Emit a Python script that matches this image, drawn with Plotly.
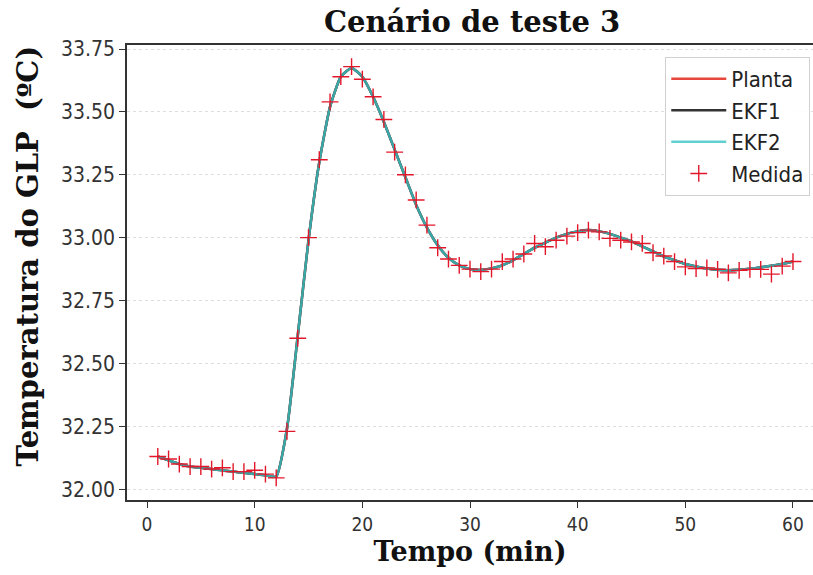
import plotly.graph_objects as go

tempo = list(range(1, 61))

planta = [32.13, 32.115, 32.10, 32.09, 32.085, 32.08, 32.075, 32.07, 32.065, 32.06,
          32.055, 32.05, 32.24, 32.61, 32.99, 33.30, 33.52, 33.64, 33.675, 33.64,
          33.56, 33.46, 33.35, 33.24, 33.13, 33.04, 32.97, 32.92, 32.89, 32.875,
          32.872, 32.878, 32.89, 32.91, 32.935, 32.96, 32.98, 33.0, 33.015, 33.025,
          33.03, 33.025, 33.015, 33.0, 32.985, 32.965, 32.945, 32.925, 32.91, 32.895,
          32.885, 32.877, 32.872, 32.87, 32.872, 32.876, 32.882, 32.888, 32.895, 32.905]

ekf1 = [32.13, 32.115, 32.10, 32.09, 32.085, 32.08, 32.075, 32.07, 32.065, 32.06,
        32.055, 32.05, 32.24, 32.61, 32.99, 33.30, 33.52, 33.64, 33.675, 33.64,
        33.56, 33.46, 33.35, 33.24, 33.13, 33.04, 32.97, 32.92, 32.89, 32.875,
        32.872, 32.878, 32.89, 32.91, 32.935, 32.96, 32.98, 33.0, 33.015, 33.025,
        33.03, 33.025, 33.015, 33.0, 32.985, 32.965, 32.945, 32.925, 32.91, 32.895,
        32.885, 32.877, 32.872, 32.87, 32.872, 32.876, 32.882, 32.888, 32.895, 32.905]

ekf2 = [32.13, 32.115, 32.10, 32.09, 32.085, 32.08, 32.075, 32.07, 32.065, 32.06,
        32.055, 32.05, 32.24, 32.61, 32.99, 33.30, 33.52, 33.64, 33.675, 33.64,
        33.56, 33.46, 33.35, 33.24, 33.13, 33.04, 32.97, 32.92, 32.89, 32.875,
        32.872, 32.878, 32.89, 32.91, 32.935, 32.96, 32.98, 33.0, 33.015, 33.025,
        33.03, 33.025, 33.015, 33.0, 32.985, 32.965, 32.945, 32.925, 32.91, 32.895,
        32.885, 32.877, 32.872, 32.87, 32.872, 32.876, 32.882, 32.888, 32.895, 32.905]

medida = [32.13, 32.12, 32.10, 32.09, 32.09, 32.08, 32.085, 32.07, 32.07, 32.075,
          32.06, 32.045, 32.23, 32.60, 33.0, 33.31, 33.54, 33.64, 33.68, 33.63,
          33.56, 33.47, 33.34, 33.25, 33.15, 33.05, 32.96, 32.915, 32.89, 32.875,
          32.865, 32.875, 32.905, 32.915, 32.935, 32.977, 32.964, 32.99, 33.006, 33.02,
          33.03, 33.023, 32.997, 32.99, 32.983, 32.977, 32.94, 32.927, 32.905, 32.884,
          32.877, 32.88, 32.874, 32.86, 32.87, 32.874, 32.874, 32.855, 32.887, 32.905]

y_ticks = [32.00, 32.25, 32.50, 32.75, 33.00, 33.25, 33.50, 33.75]
x_ticks = [0, 10, 20, 30, 40, 50, 60]

fig = go.Figure()
fig.add_trace(go.Scatter(x=tempo, y=planta, mode="lines", name="Planta",
                         line=dict(color="#e8453c", width=2.5, shape="spline", smoothing=0.5),
                         legendgroup="a"))
fig.add_trace(go.Scatter(x=tempo, y=ekf1, mode="lines", name="EKF1",
                         line=dict(color="#333333", width=2.5, shape="spline", smoothing=0.5),
                         legendgroup="b"))
fig.add_trace(go.Scatter(x=tempo, y=ekf2, mode="lines", name="EKF2",
                         line=dict(color="#3cc4c4", width=2.5, shape="spline", smoothing=0.5),
                         opacity=0.8, legendgroup="c"))
fig.add_trace(go.Scatter(x=tempo, y=medida, mode="markers", name="Medida",
                         marker=dict(symbol="cross-thin", size=12,
                                     line=dict(color="#e3172a", width=1.4)),
                         legendgroup="d"))

fig.update_layout(
    width=813, height=575,
    margin=dict(l=127, r=0, t=45, b=75),
    paper_bgcolor="white", plot_bgcolor="white",
    title=dict(text="<b>Cenário de teste 3</b>", xref="paper", x=0.503, xanchor="center",
               y=0.962, yanchor="middle",
               font=dict(family="DejaVu Serif", size=29, color="#111111")),
    legend=dict(x=0.996, y=0.974, xanchor="right", yanchor="top",
                bordercolor="#d0d0d0", borderwidth=1, bgcolor="rgba(255,255,255,0.9)",
                font=dict(family="DejaVu Sans Condensed", size=22, color="#222222"),
                tracegroupgap=0, itemwidth=55),
    font=dict(family="DejaVu Sans", color="#333333"),
    annotations=[dict(text="<b>Temperatura do GLP  (ºC)</b>", textangle=-90,
                      xref="paper", yref="paper", x=-0.1443, y=0.535,
                      xanchor="center", yanchor="middle", showarrow=False,
                      font=dict(family="DejaVu Serif", size=29, color="#111111"))],
)

fig.update_xaxes(range=[-1.86, 61.86], tickvals=x_ticks, ticks="outside", ticklen=6,
                 tickcolor="#333333",
                 tickfont=dict(family="DejaVu Sans Condensed", size=19, color="#333333"),
                 showgrid=False, zeroline=False, showline=True, linecolor="#333333",
                 linewidth=1.5, mirror=True,
                 title=dict(text="<b>Tempo (min)</b>", standoff=9,
                            font=dict(family="DejaVu Serif", size=27, color="#111111")))
fig.update_yaxes(range=[31.957, 33.766], tickvals=y_ticks, ticktext=[f"{v:.2f}" for v in y_ticks],
                 ticks="outside", ticklen=6, tickcolor="#333333",
                 tickfont=dict(family="DejaVu Sans Condensed", size=21, color="#333333"),
                 showgrid=True, gridcolor="#dddddd", gridwidth=1, griddash="dot",
                 zeroline=False, showline=True, linecolor="#333333", linewidth=1.5)

fig.write_html("out.html")
